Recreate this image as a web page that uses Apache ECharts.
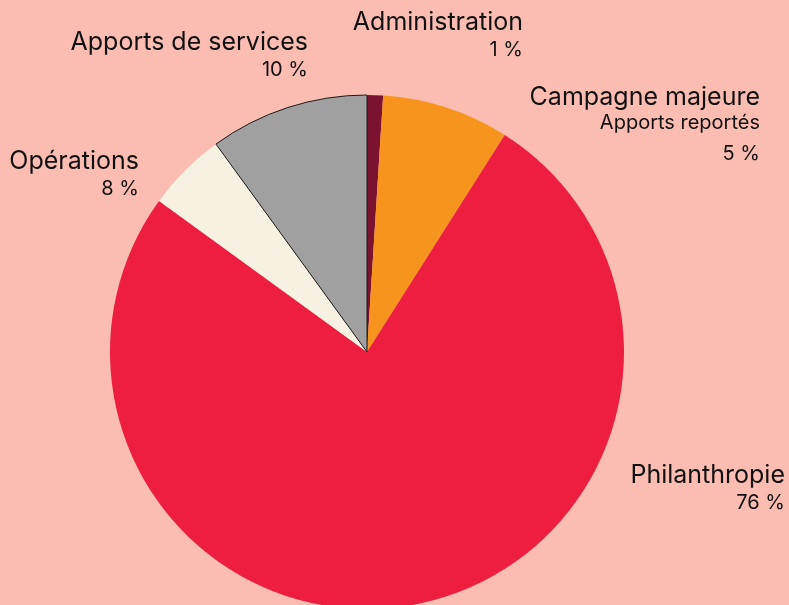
<!DOCTYPE html>
<html>
<head>
<meta charset="utf-8">
<script src="https://cdn.jsdelivr.net/npm/echarts@6/dist/echarts.min.js"></script>
<style>
html,body{margin:0;padding:0;background:#FBBDB1;}
#chart{width:789px;height:605px;}
</style>
</head>
<body>
<div id="chart"></div>
<script>
// Data (slice sizes as drawn, labels as printed)
const categories = ['Administration', 'Campagne majeure', 'Philanthropie', 'Opérations', 'Apports de services'];
const subtitles = ['', 'Apports reportés', '', '', ''];
const values = [1, 8, 76, 5, 10];
const percentLabels = ['1 %', '5 %', '76 %', '8 %', '10 %'];
const colors = ['#7B1230', '#F7941D', '#ED1E3F', '#F6F1E1', '#A0A0A0'];

// Label anchor (right edge, top) for each category
const labelAnchors = [[523, 7], [760, 82], [785, 460], [139, 146], [308, 27]];

const chart = echarts.init(document.getElementById('chart'));
chart.setOption({
  backgroundColor: '#FBBDB1',
  animation: false,
  series: [{
    type: 'pie',
    center: [367, 352],
    radius: 257,
    startAngle: 90,
    clockwise: true,
    avoidLabelOverlap: false,
    data: categories.map((c, i) => ({
      name: c,
      value: values[i],
      itemStyle: {
        color: colors[i],
        borderColor: i === 4 ? '#1a1a1a' : colors[i],
        borderWidth: i === 4 ? 1 : 0
      }
    })),
    labelLine: { show: false },
    label: {
      show: true,
      position: 'outside',
      formatter: function (p) {
        const i = p.dataIndex;
        let s = '{name|' + categories[i] + '}';
        if (subtitles[i]) {
          s += '\n{sub|' + subtitles[i] + '}';
          s += '\n{pctSub|' + percentLabels[i] + '}';
        } else {
          s += '\n{pct|' + percentLabels[i] + '}';
        }
        return s;
      },
      rich: {
        name: { fontFamily: 'Inter', fontSize: 25, lineHeight: 30, color: '#111', align: 'right' },
        sub: { fontFamily: 'Inter', fontSize: 20, lineHeight: 22, color: '#111', align: 'right' },
        pct: { fontFamily: 'Inter', fontSize: 20, lineHeight: 26, color: '#111', align: 'right' },
        pctSub: { fontFamily: 'Inter', fontSize: 20, lineHeight: 40, color: '#111', align: 'right' }
      }
    },
    labelLayout: function (params) {
      const a = labelAnchors[params.dataIndex];
      return { x: a[0], y: a[1], align: 'right', verticalAlign: 'top', hideOverlap: false };
    }
  }]
});
</script>
</body>
</html>
